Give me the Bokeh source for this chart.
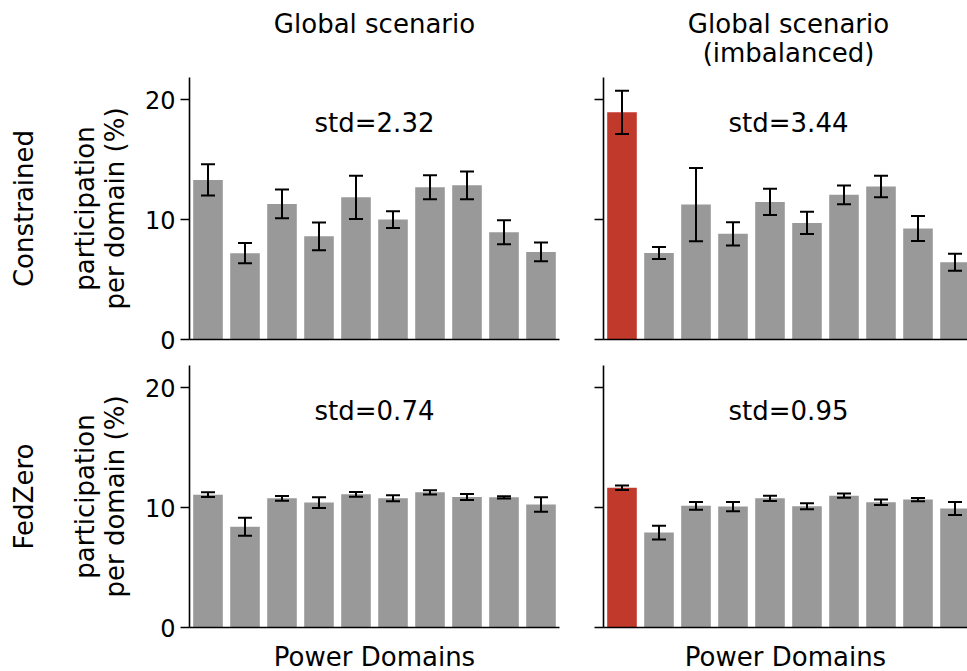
import math
from bokeh.plotting import figure
from bokeh.layouts import column, row
from bokeh.models import ColumnDataSource, Range1d, FixedTicker, Whisker, TeeHead, Label
from bokeh.embed import file_html
from bokeh.resources import INLINE

# ---------------- data ----------------
domains = list(range(10))
constrained_global = [13.3, 7.2, 11.3, 8.6, 11.85, 10.0, 12.7, 12.85, 8.95, 7.3]
constrained_global_err = [1.3, 0.85, 1.2, 1.15, 1.8, 0.7, 1.0, 1.15, 1.0, 0.78]
constrained_imb = [18.94, 7.22, 11.25, 8.81, 11.47, 9.72, 12.06, 12.75, 9.25, 6.44]
constrained_imb_err = [1.8, 0.5, 3.05, 0.97, 1.1, 0.93, 0.78, 0.9, 1.04, 0.7]
fedzero_global = [11.07, 8.40, 10.77, 10.41, 11.10, 10.77, 11.27, 10.88, 10.85, 10.25]
fedzero_global_err = [0.2, 0.75, 0.2, 0.45, 0.2, 0.25, 0.18, 0.25, 0.1, 0.6]
fedzero_imb = [11.65, 7.91, 10.14, 10.08, 10.77, 10.11, 10.99, 10.44, 10.66, 9.92]
fedzero_imb_err = [0.18, 0.58, 0.32, 0.39, 0.22, 0.25, 0.18, 0.22, 0.14, 0.55]
std_labels = ["std=2.32", "std=3.44", "std=0.74", "std=0.95"]
col_titles = [["Global scenario"], ["Global scenario", "(imbalanced)"]]
row_titles = ["Constrained", "FedZero"]
ylabel_lines = ["participation", "per domain (%)"]
xlabel = "Power Domains"
y_ticks = [0, 10, 20]
highlight_domain = 0

GRAY = "#999999"
RED = "#c0392b"
FONT = "DejaVu Sans"
TXT = "26px"

FW, FH = 370, 262
Y_MAX = 21.84
PX_X = FW / 10.0
PX_Y = FH / Y_MAX

LEFT_W = 140        # width of the row-label strip
HEAD_H = 77         # height of the column-title strip
TOTAL_W = 967
TOTAL_H = 671
TOP_B = 16          # bottom border of the upper panels
GAP_T = 10          # top border of the lower panels
SHIFT_H = 9         # baseline correction for horizontal texts (px)
SHIFT_V = 10        # baseline correction for rotated texts (px)
BOT_B = TOTAL_H - HEAD_H - (FH + TOP_B) - (GAP_T + FH)


def add_label(p, text, x, y, size=TXT, angle=0.0, align="center", baseline="alphabetic"):
    p.add_layout(Label(x=x, y=y, text=text, text_font=FONT, text_font_size=size,
                       text_color="black", text_align=align, text_baseline=baseline,
                       angle=angle))


def text_canvas(w, h):
    p = figure(width=w, height=h, x_range=Range1d(0, w), y_range=Range1d(0, h),
               x_axis_location=None, y_axis_location=None, min_border=0,
               toolbar_location=None, output_backend="svg",
               background_fill_color="white", border_fill_color="white")
    p.outline_line_color = None
    p.grid.visible = False
    return p


def make_panel(values, errs, highlight, left, right, top, bottom, frame_w, x_end,
               show_labels, x_title=None):
    colors = [RED if (highlight and d == highlight_domain) else GRAY for d in domains]
    src = ColumnDataSource(dict(
        x=domains, top=values, color=colors,
        upper=[v + e for v, e in zip(values, errs)],
        lower=[v - e for v, e in zip(values, errs)],
    ))
    p = figure(frame_width=frame_w, frame_height=FH,
               x_range=Range1d(-0.5, x_end), y_range=Range1d(0, Y_MAX),
               min_border_left=left, min_border_right=right,
               min_border_top=top, min_border_bottom=bottom,
               output_backend="svg", toolbar_location=None,
               background_fill_color="white", border_fill_color="white")
    p.outline_line_color = None
    p.grid.visible = False
    p.vbar(x="x", top="top", width=0.8, fill_color="color", line_color=None, source=src)
    w = Whisker(base="x", upper="upper", lower="lower", source=src,
                line_color="black", line_width=2, level="annotation",
                upper_head=TeeHead(size=14, line_width=2, line_color="black"),
                lower_head=TeeHead(size=14, line_width=2, line_color="black"))
    p.add_layout(w)

    xa = p.xaxis[0]
    xa.ticker = FixedTicker(ticks=[])
    xa.major_tick_out = 0
    xa.major_tick_in = 0
    xa.minor_tick_out = 0
    xa.axis_line_width = 1.6
    xa.axis_line_color = "black"
    xa.major_label_text_font_size = "0px"
    xa.major_label_standoff = 0
    if x_title:
        xa.axis_label = x_title
        xa.axis_label_text_font = FONT
        xa.axis_label_text_font_size = TXT
        xa.axis_label_text_font_style = "normal"
        xa.axis_label_text_color = "black"
        xa.axis_label_standoff = 14

    ya = p.yaxis[0]
    ya.ticker = FixedTicker(ticks=y_ticks)
    ya.major_tick_out = 9
    ya.major_tick_in = 0
    ya.minor_tick_out = 0
    ya.minor_tick_in = 0
    ya.axis_line_width = 1.6
    ya.major_tick_line_width = 1.6
    ya.axis_line_color = "black"
    ya.major_tick_line_color = "black"
    ya.major_label_text_font = FONT
    ya.major_label_text_font_size = "24px"
    ya.major_label_text_color = "black"
    ya.major_label_standoff = 5
    if not show_labels:
        ya.major_label_overrides = {t: "" for t in y_ticks}
        ya.major_label_standoff = 0
    return p


XR_END = -0.5 + 364 / PX_X
tl = make_panel(constrained_global, constrained_global_err, False,
                189 - LEFT_W, 14, 0, TOP_B, FW, 9.5, True)
tr = make_panel(constrained_imb, constrained_imb_err, True,
                30, 0, 0, TOP_B, 364, XR_END, False)
bl = make_panel(fedzero_global, fedzero_global_err, False,
                189 - LEFT_W, 14, GAP_T, BOT_B, FW, 9.5, True, xlabel)
br = make_panel(fedzero_imb, fedzero_imb_err, True,
                30, 0, GAP_T, BOT_B, 364, XR_END, False, xlabel)

# std annotations (inside each frame, in data units)
xc = 4.5
std_y = (208 + SHIFT_H) / PX_Y
add_label(tl, std_labels[0], xc, std_y)
add_label(tr, std_labels[1], xc, std_y)
add_label(bl, std_labels[2], xc, std_y)
add_label(br, std_labels[3], xc, std_y)

# header strip with column titles
LEFT_CX = 189 + FW / 2
RIGHT_CX = 603 + FW / 2
head = text_canvas(TOTAL_W, HEAD_H)
add_label(head, col_titles[0][0], LEFT_CX, HEAD_H - 32.5 + SHIFT_H)
add_label(head, col_titles[1][0], RIGHT_CX, HEAD_H - 32.5 + SHIFT_H)
add_label(head, col_titles[1][1], RIGHT_CX, HEAD_H - 61.7 + SHIFT_H)

# left strip with row titles and y labels
PANELS_H = TOTAL_H - HEAD_H
side = text_canvas(LEFT_W, PANELS_H)
row_centers = [PANELS_H - (FH / 2), PANELS_H - (FH + TOP_B + GAP_T + FH / 2)]
for title, cy in zip(row_titles, row_centers):
    add_label(side, title, 33 - SHIFT_V, cy, angle=math.pi / 2)
    add_label(side, ylabel_lines[0], 94 - SHIFT_V, cy, angle=math.pi / 2)
    add_label(side, ylabel_lines[1], 124 - SHIFT_V, cy, angle=math.pi / 2)

panels = column(row(tl, tr, spacing=0), row(bl, br, spacing=0), spacing=0)
layout = column(head, row(side, panels, spacing=0), spacing=0)
open("out.html", "w").write(file_html(layout, INLINE))
